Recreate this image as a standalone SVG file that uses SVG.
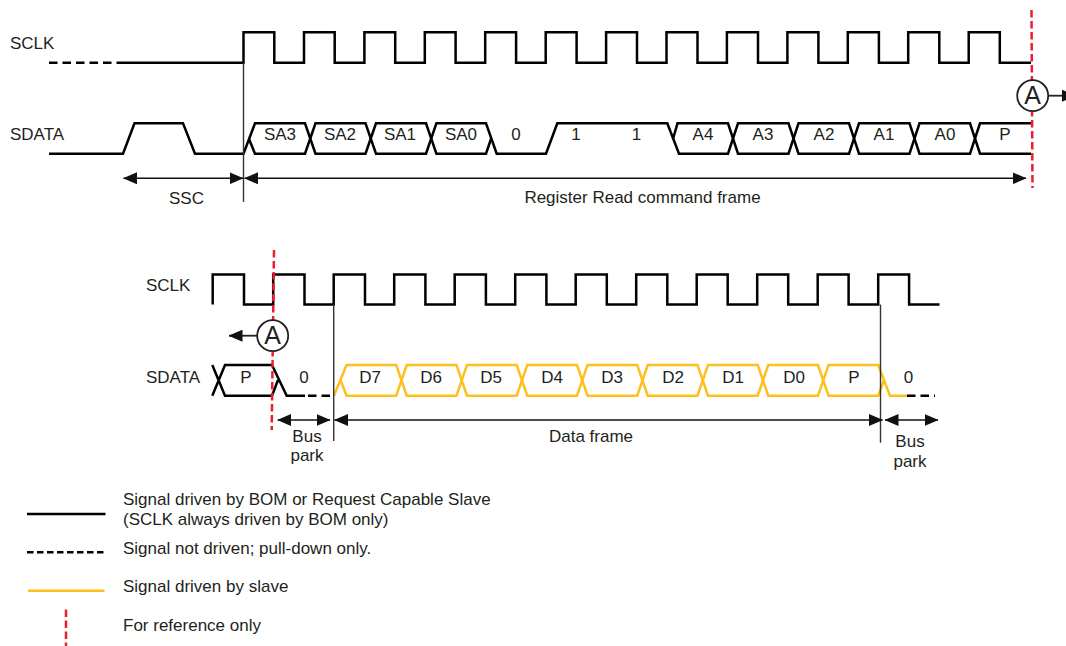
<svg xmlns="http://www.w3.org/2000/svg" width="1066" height="646" viewBox="0 0 1066 646">
<defs>
<marker id="ah" viewBox="0 0 14 12" refX="13.5" refY="6" markerWidth="14" markerHeight="12" markerUnits="userSpaceOnUse" orient="auto-start-reverse"><path d="M0 0L14 6L0 12Z" fill="#111"/></marker>
</defs>
<style>
text{font-family:"Liberation Sans",Arial,sans-serif;font-size:17px;fill:#231f20}
.s{fill:none;stroke:#000;stroke-width:2.5}
.d{fill:none;stroke:#000;stroke-width:2.5;stroke-dasharray:8.500 5}
.l{fill:none;stroke:#000;stroke-width:2.5;stroke-dasharray:6.500 3.500}
.y{fill:none;stroke:#fdc01f;stroke-width:2.500}
.r{fill:none;stroke:#ed1c2e;stroke-width:2.500;stroke-dasharray:7.500 3.500}
.t{fill:none;stroke:#333;stroke-width:1.400}
.a{fill:none;stroke:#111;stroke-width:1.400;marker-end:url(#ah);marker-start:url(#ah)}
.e{fill:none;stroke:#222;stroke-width:1.800;marker-end:url(#ah)}
.c{fill:#fff;stroke:#231f20;stroke-width:1.800}
.m{text-anchor:middle}
.big{font-size:25px}
</style>
<g id="top-sclk">
<text x="10" y="49">SCLK</text>
<path class="d" d="M49 62.700H122"/>
<path class="s" d="M122 62.700H243.500V32.300H274.300V62.700H304V32.300H334.700V62.700H364.400V32.300H395.200V62.700H424.800V32.300H455.600V62.700H485.200V32.300H516.100V62.700H545.700V32.300H576.600V62.700H606.100V32.300H637V62.700H666.500V32.300H697.500V62.700H726.900V32.300H758V62.700H787.400V32.300H818.400V62.700H847.800V32.300H878.900V62.700H908.200V32.300H939.300V62.700H968.700V32.300H999.800V62.700H1031"/>
</g>
<g id="top-sdata">
<text x="10" y="140">SDATA</text>
<path class="s" d="M49 153.700H123L134.500 123.300H183L195 153.700H243.500L255 123.300H305L315.500 153.700H365.500L376 123.300H426L436.400 153.700H486L491 139"/>
<path class="s" d="M249 139L255 153.700H305L315.500 123.300H365.500L376 153.700H426L436.400 123.300H486L496.700 153.700H546L557.300 123.300H667.300L679 153.700H728L738 123.300H788.500L798.500 153.700H849L859 123.300H909.500L919.500 153.700H970L980 123.300H1031"/>
<path class="s" d="M673 139L677.500 123.300H728L738 153.700H788.500L798.500 123.300H849L859 153.700H909.500L919.500 123.300H970L980 153.700H1031"/>
<text class="m" x="280" y="140">SA3</text>
<text class="m" x="340" y="140">SA2</text>
<text class="m" x="400" y="140">SA1</text>
<text class="m" x="461" y="140">SA0</text>
<text class="m" x="516" y="140">0</text>
<text class="m" x="576" y="140">1</text>
<text class="m" x="636.500" y="140">1</text>
<text class="m" x="703" y="140">A4</text>
<text class="m" x="763" y="140">A3</text>
<text class="m" x="824" y="140">A2</text>
<text class="m" x="884" y="140">A1</text>
<text class="m" x="945" y="140">A0</text>
<text class="m" x="1005" y="140">P</text>
</g>
<g id="bottom-sclk">
<text x="146" y="290.500">SCLK</text>
<path class="s" d="M212.700 304.500V274.500H244V304.500H273.200V274.500H304.500V304.500H333.700V274.500H365V304.500H394.200V274.500H425.400V304.500H454.700V274.500H485.900V304.500H515.200V274.500H546.400V304.500H575.700V274.500H606.800V304.500H636.200V274.500H667.300V304.500H696.700V274.500H727.700V304.500H757.200V274.500H788.200V304.500H817.700V274.500H848.600V304.500H878.200V274.500H909.100V304.500H939.500"/>
</g>
<g id="bottom-sdata">
<text x="146" y="382.500">SDATA</text>
<path class="s" d="M212.300 365L225 395.700H272L278 380M212.300 395.700L225 365H272L286.700 395.700H305"/>
<path class="d" d="M308 395.700H333"/>
<path class="y" d="M334 395.700L346.500 365H396.200L406.750 395.700H456.500L467 365H516.700L527.250 395.700H577L587.500 365H637.200L647.750 395.700H697.500L708 365H757.700L768.250 395.700H818L828.500 365H878.200L890 395.700H907"/>
<path class="y" d="M340.500 380L346.500 395.700H396.200L406.750 365H456.500L467 395.700H516.700L527.250 365H577L587.500 395.700H637.200L647.750 365H697.500L708 395.700H757.700L768.250 365H818L828.500 395.700H878.200L884 380"/>
<path class="d" d="M907 395.700H935"/>
<text class="m" x="246" y="382.500">P</text>
<text class="m" x="304" y="382.500">0</text>
<text class="m" x="370" y="382.500">D7</text>
<text class="m" x="431" y="382.500">D6</text>
<text class="m" x="491" y="382.500">D5</text>
<text class="m" x="552" y="382.500">D4</text>
<text class="m" x="612" y="382.500">D3</text>
<text class="m" x="673" y="382.500">D2</text>
<text class="m" x="733" y="382.500">D1</text>
<text class="m" x="794" y="382.500">D0</text>
<text class="m" x="854" y="382.500">P</text>
<text class="m" x="908.500" y="382.500">0</text>
</g>
<g id="connectors">
<path class="t" d="M243.500 62.700V202"/>
<path class="t" d="M333.700 304.500V441"/>
<path class="t" d="M880.500 304.500V442.700"/>
<path class="r" d="M1031.500 10L1032.500 188"/>
<path class="r" d="M274 250L271.700 430"/>
<path class="a" d="M123.500 178.300H243"/>
<path class="a" d="M244.500 178.300H1026"/>
<path class="a" d="M277.700 420H330"/>
<path class="a" d="M334.500 420H882.500"/>
<path class="a" d="M885 420H938"/>
</g>
<g id="marker-a-right">
<path class="e" d="M1048 95.700H1075.500"/>
<circle class="c" cx="1032.700" cy="95.700" r="15.500"/>
<text class="m big" x="1032.700" y="104">A</text>
</g>
<g id="marker-a-left">
<path class="e" d="M258 335.700H229"/>
<circle class="c" cx="272.700" cy="335.700" r="15.500"/>
<text class="m big" x="272.700" y="344">A</text>
</g>
<g id="top-labels">
<text class="m" x="186.500" y="204">SSC</text>
<text class="m" x="642.500" y="203">Register Read command frame</text>
</g>
<g id="bottom-labels">
<text class="m" x="307" y="441.500">Bus</text>
<text class="m" x="307" y="461">park</text>
<text class="m" x="591" y="441.700">Data frame</text>
<text class="m" x="910" y="447">Bus</text>
<text class="m" x="910" y="467">park</text>
</g>
<g id="legend">
<path class="s" d="M27 514H105.500"/>
<path class="l" d="M27 552.300H105.500"/>
<path class="y" d="M28 590.700H104.500"/>
<path class="r" d="M66 609.500V646"/>
<text x="123" y="505">Signal driven by BOM or Request Capable Slave</text>
<text x="123" y="525">(SCLK always driven by BOM only)</text>
<text x="123" y="554">Signal not driven; pull-down only.</text>
<text x="123" y="592">Signal driven by slave</text>
<text x="123" y="631">For reference only</text>
</g>
</svg>
